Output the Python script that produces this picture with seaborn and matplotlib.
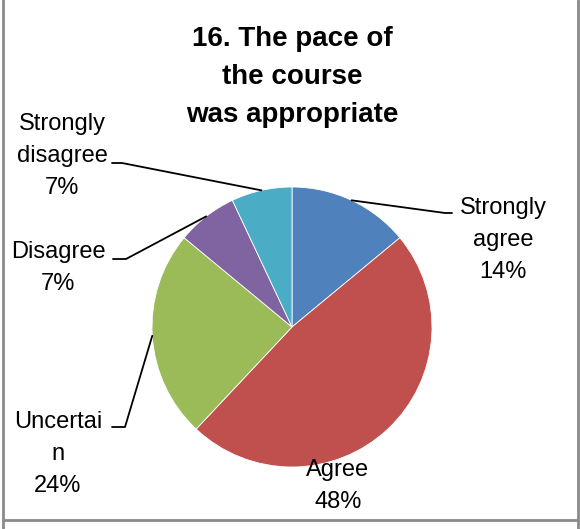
import matplotlib
matplotlib.use("Agg")
import matplotlib.pyplot as plt
from matplotlib.lines import Line2D
import seaborn as sns
import numpy as np

sns.set_style("white")
plt.rcParams['font.family'] = ['Liberation Sans', 'DejaVu Sans']
plt.rcParams['text.color'] = 'black'

categories = ["Strongly agree", "Agree", "Uncertain", "Disagree", "Strongly disagree"]
label_texts = ["Strongly\nagree\n14%", "Agree\n48%", "Uncertai\nn\n24%", "Disagree\n7%", "Strongly\ndisagree\n7%"]
values = [14, 48, 24, 7, 7]
colors = ["#4F81BD", "#C0504D", "#9BBB59", "#8064A2", "#4BACC6"]
title = "16. The pace of\nthe course\nwas appropriate"

W, H = 580, 529
fig = plt.figure(figsize=(W / 100, H / 100), dpi=100)

cx, cy, R = 292, 327, 140
ax = fig.add_axes([(cx - R) / W, (H - cy - R) / H, 2 * R / W, 2 * R / H])
wedges, _ = ax.pie(values, colors=colors, startangle=90, counterclock=False,
                   radius=1, wedgeprops=dict(edgecolor="white", linewidth=0.6))
ax.set_xlim(-1, 1)
ax.set_ylim(-1, 1)
ax.set_aspect("equal")
ax.axis("off")

def px2d(px, py):
    return ((px - cx) / R, (cy - py) / R)

# label layout: text centre (px), elbow point, line end (px); None = no leader
layout = [
    ((503, 240), (445, 213), (452, 213)),
    ((338, 486), None, None),
    ((58, 454), (125, 427), (112, 427)),
    ((58, 268), (126, 259), (113, 259)),
    ((62, 156), (122, 163), (112, 163)),
]

for w, txt, (tc, elbow, end) in zip(wedges, label_texts, layout):
    tx, ty = px2d(*tc)
    ax.text(tx, ty, txt, ha="center", va="center", fontsize=17,
            linespacing=1.56, color="black", clip_on=False)
    if elbow is not None:
        mid = np.deg2rad((w.theta1 + w.theta2) / 2)
        ex, ey = np.cos(mid), np.sin(mid)
        bx, by = px2d(*elbow)
        fx, fy = px2d(*end)
        ax.add_line(Line2D([ex, bx, fx], [ey, by, fy], color="black",
                           linewidth=1.3, clip_on=False))

fig.text(292 / W, 1 - 77 / H, title, ha="center", va="center",
         fontsize=20, fontweight="bold", linespacing=1.6, color="black")

# cell border lines
border = "#8a8a8a"
fig.add_artist(Line2D([3 / W, 3 / W], [0, 1], color=border, linewidth=2))
fig.add_artist(Line2D([578 / W, 578 / W], [0, 1], color=border, linewidth=2))
fig.add_artist(Line2D([3 / W, 578 / W], [1 - 520 / H, 1 - 520 / H], color=border, linewidth=2))

fig.savefig("out.png", dpi=100, facecolor="white")
